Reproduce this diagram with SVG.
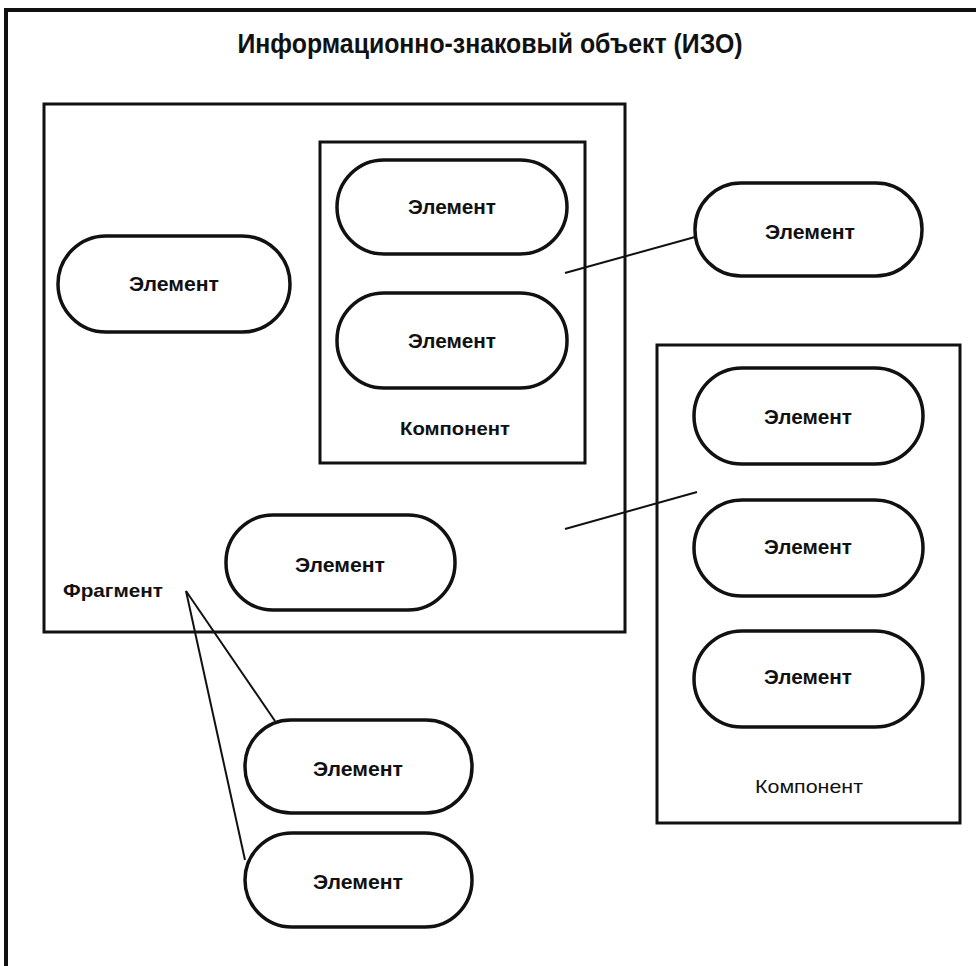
<svg xmlns="http://www.w3.org/2000/svg" width="976" height="966" viewBox="0 0 976 966">
<style>
.frame{fill:none;stroke:#111;stroke-width:4}
.box{fill:none;stroke:#111;stroke-width:3}
.el{fill:#fff;stroke:#111;stroke-width:3.5}
.t{font-family:"Liberation Sans",Arial,sans-serif;font-size:21px;font-weight:bold;fill:#111;text-anchor:middle}
.lbl{font-family:"Liberation Sans",Arial,sans-serif;font-size:19px;fill:#111}
.conn{stroke:#111;stroke-width:2;fill:none}
</style>
<rect width="976" height="966" fill="#fff"/>
<g id="izo">
<rect class="frame" x="6" y="10" width="1000" height="1000"/>
<text x="490" y="53" font-family="'Liberation Sans',Arial,sans-serif" font-size="27" font-weight="bold" fill="#111" text-anchor="middle" textLength="505" lengthAdjust="spacingAndGlyphs">Информационно-знаковый объект (ИЗО)</text>
</g>
<g id="fragment">
<rect class="box" x="44" y="104" width="581" height="528"/>
<text class="lbl" x="63" y="597" textLength="100" lengthAdjust="spacingAndGlyphs" font-weight="bold">Фрагмент</text>
</g>
<g id="component1">
<rect class="box" x="320" y="142" width="265" height="321"/>
<text class="lbl" x="400" y="435" textLength="110" lengthAdjust="spacingAndGlyphs" font-weight="bold">Компонент</text>
</g>
<g id="component2">
<rect class="box" x="657" y="345" width="303" height="478"/>
<text class="lbl" x="755" y="793" textLength="108" lengthAdjust="spacingAndGlyphs">Компонент</text>
</g>
<g id="connectors">
<line class="conn" x1="565" y1="273" x2="695" y2="237"/>
<line class="conn" x1="565" y1="529" x2="697" y2="492"/>
<line class="conn" x1="186" y1="591" x2="275" y2="721"/>
<line class="conn" x1="186" y1="591" x2="245" y2="860"/>
</g>
<g id="el1"><rect class="el" x="58" y="236" width="232" height="96" rx="48"/><text class="t" x="174" y="291" textLength="90" lengthAdjust="spacingAndGlyphs">Элемент</text></g>
<g id="el2"><rect class="el" x="337" y="160" width="230" height="94" rx="47"/><text class="t" x="452" y="214" textLength="88" lengthAdjust="spacingAndGlyphs">Элемент</text></g>
<g id="el3"><rect class="el" x="337" y="293" width="230" height="95" rx="47"/><text class="t" x="452" y="348" textLength="88" lengthAdjust="spacingAndGlyphs">Элемент</text></g>
<g id="el4"><rect class="el" x="695" y="183" width="227" height="93" rx="46"/><text class="t" x="810" y="239" textLength="90" lengthAdjust="spacingAndGlyphs">Элемент</text></g>
<g id="el5"><rect class="el" x="226" y="515" width="229" height="95" rx="47"/><text class="t" x="340" y="572" textLength="90" lengthAdjust="spacingAndGlyphs">Элемент</text></g>
<g id="el6"><rect class="el" x="694" y="368" width="229" height="96" rx="48"/><text class="t" x="808" y="424" textLength="88" lengthAdjust="spacingAndGlyphs">Элемент</text></g>
<g id="el7"><rect class="el" x="694" y="500" width="229" height="96" rx="48"/><text class="t" x="808" y="554" textLength="88" lengthAdjust="spacingAndGlyphs">Элемент</text></g>
<g id="el8"><rect class="el" x="694" y="631" width="229" height="96" rx="48"/><text class="t" x="808" y="684" textLength="88" lengthAdjust="spacingAndGlyphs">Элемент</text></g>
<g id="el9"><rect class="el" x="245" y="720" width="227" height="93" rx="46"/><text class="t" x="358" y="776" textLength="90" lengthAdjust="spacingAndGlyphs">Элемент</text></g>
<g id="el10"><rect class="el" x="245" y="833" width="227" height="94" rx="47"/><text class="t" x="358" y="889" textLength="90" lengthAdjust="spacingAndGlyphs">Элемент</text></g>
</svg>
